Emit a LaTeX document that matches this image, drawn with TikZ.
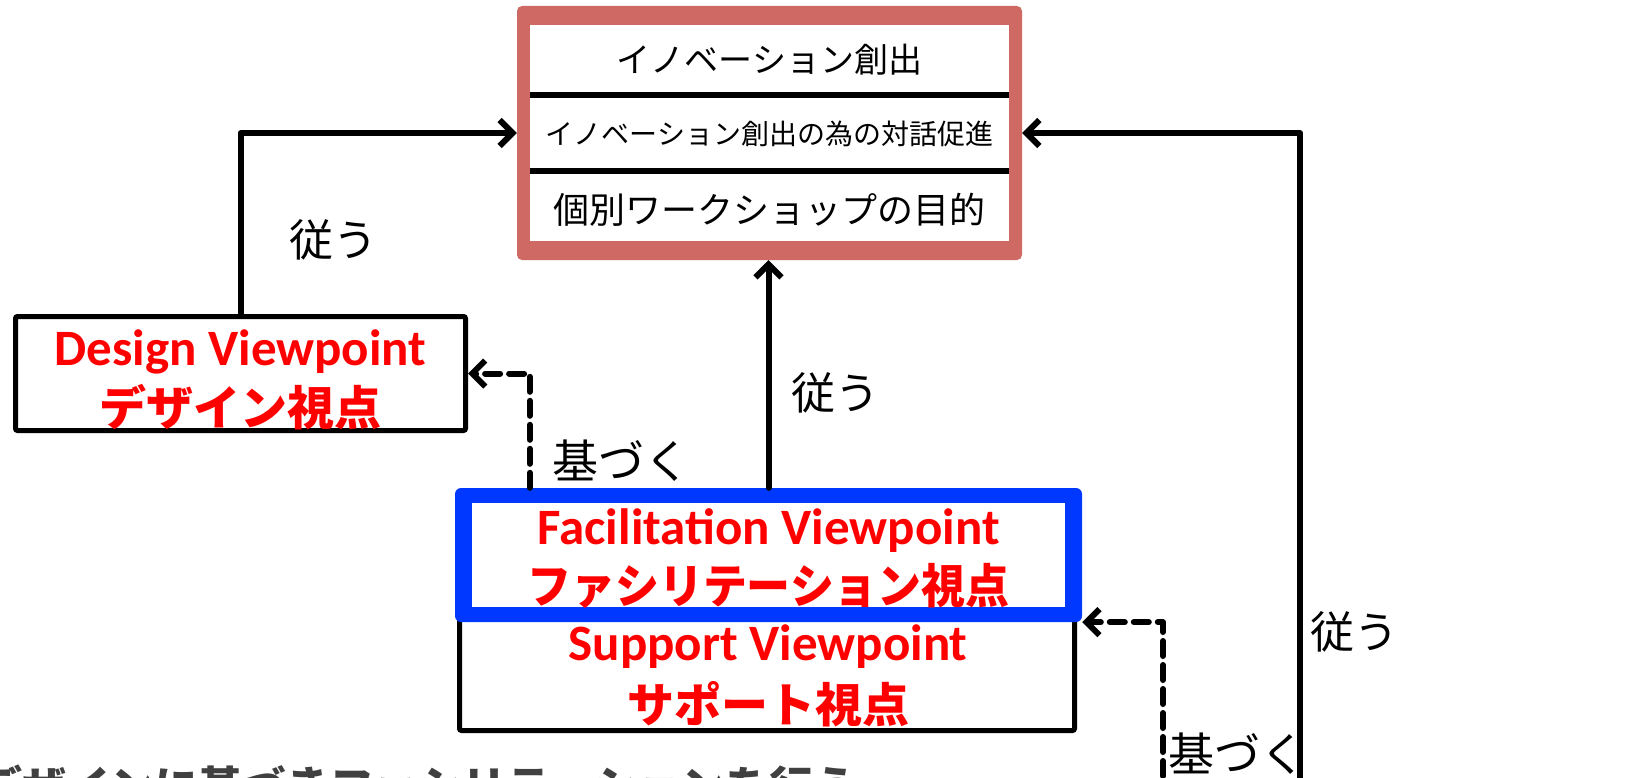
\documentclass[tikz,border=0pt]{standalone}
\usepackage{fontspec}
\usepackage{graphicx}
\usetikzlibrary{arrows.meta}
\newfontfamily\jp{Noto Sans CJK JP}
\newfontfamily\calb{Carlito}
\definecolor{boxred}{RGB}{206,106,99}
\definecolor{boxblue}{RGB}{0,56,255}
\definecolor{txtred}{RGB}{255,0,0}
\definecolor{txtgray}{RGB}{64,64,64}
\tikzset{
  arr/.style={line width=6pt,line cap=round,line join=round,-{Straight Barb[length=13pt,width=26pt,line width=6pt]}},
  darr/.style={arr,dash pattern=on 15pt off 9pt},
  lbl/.style={font=\jp\fontsize{44}{48}\selectfont,inner sep=0pt,anchor=west},
  lblb/.style={font=\jp\fontsize{46}{50}\selectfont,inner sep=0pt,anchor=west},
  entxt/.style={font=\calb\bfseries\fontsize{51}{55}\selectfont,text=txtred,inner sep=0pt},
  jptxt/.style={font=\jp\bfseries\fontsize{47}{51}\selectfont,text=txtred,inner sep=0pt},
  plainbox/.style={draw=black,line width=5pt,fill=white,rounded corners=2pt,inner sep=0pt},
}
\begin{document}
\begin{tikzpicture}[x=1pt,y=-1pt]
\useasboundingbox (0,0) rectangle (1635,778);
% top box
\node[fill=boxred,rounded corners=5pt,minimum width=505pt,minimum height=254pt,inner sep=0pt] (top) at (769.5,133) {};
\node[fill=white,minimum width=479pt,minimum height=216pt,inner sep=0pt] (topin) at (769.5,133) {};
\draw[line width=6pt] (topin.west |- 0,95) coordinate (d1a) -- (topin.east |- 0,95) coordinate (d1b);
\draw[line width=6pt] (topin.west |- 0,171) coordinate (d2a) -- (topin.east |- 0,171) coordinate (d2b);
\node[font=\jp\fontsize{34}{38}\selectfont,inner sep=0pt] (t1) at (769.5,60) {イノベーション創出};
\node[font=\jp\fontsize{28}{32}\selectfont,inner sep=0pt] (t2) at (769.5,134) {イノベーション創出の為の対話促進};
\node[font=\jp\fontsize{36}{40}\selectfont,inner sep=0pt] (t3) at (769.5,210) {個別ワークショップの目的};
% design box
\node[plainbox,minimum width=450pt,minimum height=114pt] (design) at (240.5,373.5) {};
\node[entxt] (designen) at (240.5,352) {Design Viewpoint};
\node[jptxt] (designjp) at (240.5,407) {デザイン視点};
% support box
\node[plainbox,minimum width=615pt,minimum height=123pt] (support) at (767,669) {};
\node[entxt] (supporten) at (768,647) {Support Viewpoint};
\node[jptxt] (supportjp) at (768,704) {サポート視点};
% facilitation box
\node[fill=boxblue,rounded corners=6pt,minimum width=627pt,minimum height=134pt,inner sep=0pt] (facil) at (768.5,555) {};
\node[fill=white,minimum width=593pt,minimum height=104pt,inner sep=0pt] (facilin) at (768.5,555) {};
\node[entxt] (facilen) at (768.5,531) {Facilitation Viewpoint};
\node[jptxt] (faciljp) at (768.5,586) {\scalebox{0.935}[1]{ファシリテーション視点}};
% connectors
\coordinate (rb) at (1300,800);
\coordinate (db) at (1163,800);
\draw[arr] (design.north) |- (top.west);
\draw[arr] (rb) |- (top.east);
\draw[arr] (facil.north) -- (facil.north |- top.south);
\draw[darr] ([xshift=75pt]facil.north west) |- (design.east);
\draw[darr] (db) |- (facil.south east);
% labels
\node[lbl] (l1) at (289,240) {従う};
\node[lbl] (l2) at (791,393) {従う};
\node[lbl] (l3) at (1310,632) {従う};
\node[lblb] (l4) at (552,461) {基づく};
\node[lblb] (l5) at (1168,754) {基づく};
% bottom caption (cut off)
\node[font=\jp\bfseries\fontsize{44}{48}\selectfont,text=txtgray,inner sep=0pt,anchor=base west] (cap) at (-22,803) {デザインに基づきファシリテーションを行う};
\end{tikzpicture}
\end{document}
